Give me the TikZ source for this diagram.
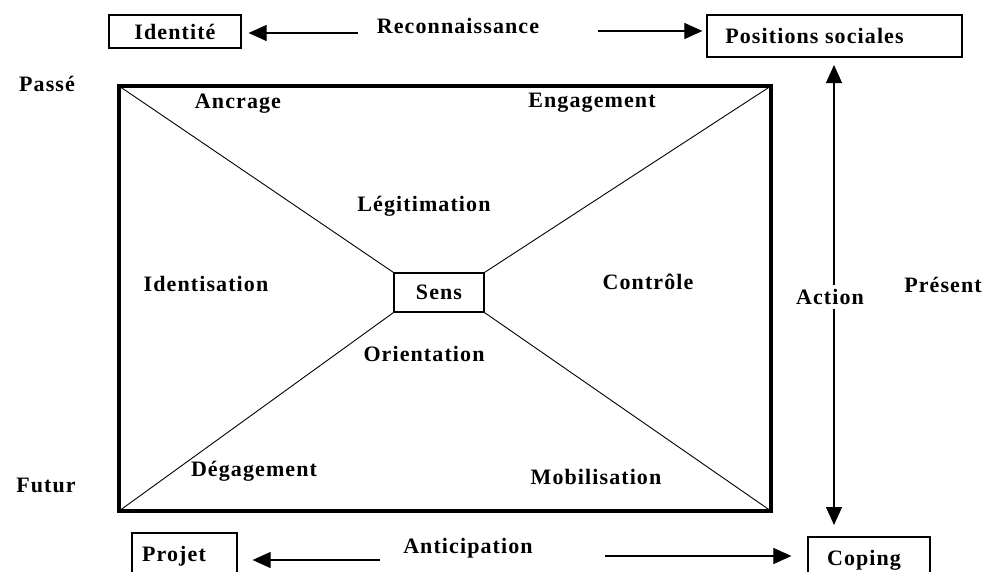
\documentclass[tikz,border=0pt]{standalone}
\usepackage{fontspec}
\setmainfont{Liberation Serif}[LetterSpace=5]
\usetikzlibrary{arrows.meta}
\tikzset{
  lbl/.style={font=\fontsize{22}{25}\selectfont\bfseries, inner sep=1pt},
  boxnode/.style={lbl, draw, line width=1.2pt, inner sep=0pt},
  conn/.style={line width=1.1pt, -{Triangle[length=18pt,width=16pt]}},
  diag/.style={line width=0.9pt}
}
\begin{document}
\begin{tikzpicture}[x=1pt,y=-1pt]
\useasboundingbox (0,0) rectangle (986,571);
% boxes
\node[boxnode, minimum width=132, minimum height=33] (ident) at (175,31.5) {Identité};
\node[boxnode, minimum width=255, minimum height=42] (pos) at (834.5,36) {\hspace*{-40pt}Positions sociales};
\node[boxnode, minimum width=105, minimum height=46] (proj) at (184.5,556) {\hspace*{-21pt}Projet};
\node[boxnode, minimum width=122, minimum height=46] (cop) at (869,560) {\hspace*{-10pt}Coping};
\node[boxnode, minimum width=90, minimum height=39] (sens) at (439,292.5) {Sens};
% big rectangle
\coordinate (tl) at (119,86);
\coordinate (tr) at (771,86);
\coordinate (br) at (771,511);
\coordinate (bl) at (119,511);
\draw[line width=4pt] (tl) -- (tr) -- (br) -- (bl) -- cycle;
\draw[diag] (tl) -- (sens.north west);
\draw[diag] (tr) -- (sens.north east);
\draw[diag] (br) -- (sens.south east);
\draw[diag] (bl) -- (sens.south west);
% labels
\node[lbl] (reco) at (458,26) {Reconnaissance};
\node[lbl] (anti) at (468,548) {Anticipation};
\node[lbl] at (47,84) {Passé};
\node[lbl] at (46,485) {Futur};
\node[lbl] at (943,285) {Présent};
\node[lbl] at (238,104) {Ancrage};
\node[lbl] at (592,103) {Engagement};
\node[lbl] at (424,206) {Légitimation};
\node[lbl] at (206,284) {Identisation};
\node[lbl] at (648,282) {Contrôle};
\node[lbl] at (424,354) {Orientation};
\node[lbl] at (254,471) {Dégagement};
\node[lbl] at (596,477) {Mobilisation};
% connectors
\coordinate (r1) at (358,33);
\coordinate (r2) at (598,31);
\coordinate (a1) at (380,560);
\coordinate (a2) at (605,556);
\draw[conn, shorten >=7pt] (r1) -- (r1 -| ident.east);
\draw[conn, shorten >=4pt] (r2) -- (r2 -| pos.west);
\draw[conn, shorten >=15pt] (a1) -- (a1 -| proj.east);
\draw[conn, shorten >=16pt] (a2) -- (a2 -| cop.west);
\draw[conn, {Triangle[length=18pt,width=16pt]}-{Triangle[length=18pt,width=16pt]}, shorten <=8pt, shorten >=12pt] (834,57) -- (834,537);
\node[lbl, fill=white, inner sep=4pt] (act) at (830,297) {Action};
\end{tikzpicture}
\end{document}
